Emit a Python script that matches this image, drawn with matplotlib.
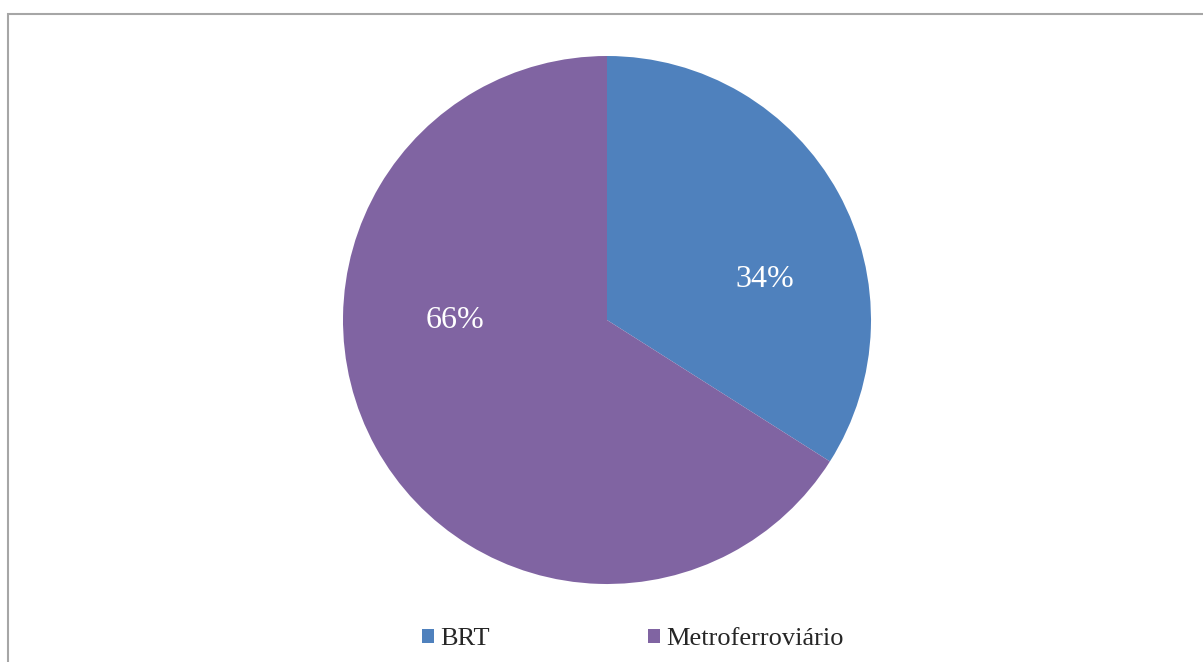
import matplotlib.pyplot as plt
from matplotlib.patches import Rectangle

# Share of each mode
labels = ['BRT', 'Metroferroviário']
values = [34, 66]
colors = ['#4F81BD', '#8064A2']

W, H = 1203, 662
fig = plt.figure(figsize=(W / 100, H / 100), dpi=100)
plt.rcParams['font.family'] = ['Liberation Serif', 'DejaVu Serif']

# grey frame around the chart area (runs off the right/bottom edge)
fig.patches.append(Rectangle((8 / W, -0.05), 1.1, (H - 14) / H + 0.05,
                             transform=fig.transFigure, fill=False,
                             edgecolor='#A6A6A6', linewidth=1.5))

# pie: centre (607, 320) px, radius 264 px
r = 264
cx, cy = 607, H - 320
ax = fig.add_axes([(cx - r) / W, (cy - r) / H, 2 * r / W, 2 * r / H])
wedges, _ = ax.pie(values, colors=colors, startangle=90, counterclock=False,
                   radius=1, wedgeprops=dict(linewidth=0))
ax.set_xlim(-1, 1)
ax.set_ylim(-1, 1)
ax.set_aspect('equal')
ax.axis('off')

# percentage labels
label_pos = [(0.598, 0.155), (-0.576, -0.001)]
total = sum(values)
for v, (x, y) in zip(values, label_pos):
    ax.text(x, y, '%d%%' % round(v * 100 / total), color='white', fontsize=23,
            ha='center', va='center')

leg = fig.legend(wedges, labels, loc='center', bbox_to_anchor=(633 / W, 23 / H),
                 ncol=2, frameon=False, fontsize=19, handlelength=0.45,
                 handleheight=0.45, handletextpad=0.25, columnspacing=6.0)
for t in leg.get_texts():
    t.set_color('#262626')

fig.savefig('out.png', dpi=100)
